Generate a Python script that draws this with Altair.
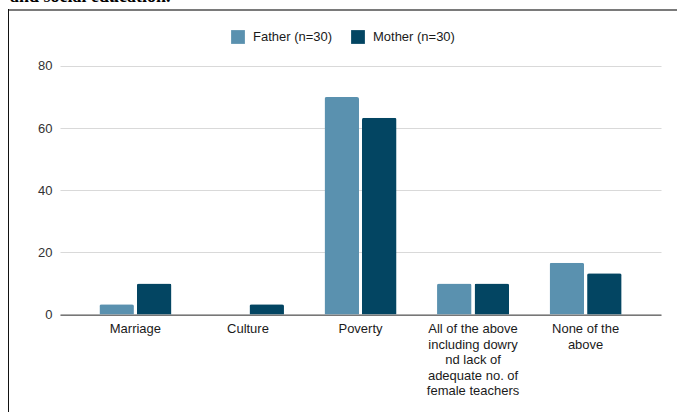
import altair as alt
import pandas as pd

# Reasons given, one entry per category (line breaks mark wrapped axis labels)
categories = [
    "Marriage",
    "Culture",
    "Poverty",
    "All of the above\nincluding dowry\nnd lack of\nadequate no. of\nfemale teachers",
    "None of the\nabove",
]
series = ["Father (n=30)", "Mother (n=30)"]
father = [3.33, 0, 70.0, 10.0, 16.67]
mother = [10.0, 3.33, 63.33, 10.0, 13.33]
y_ticks = [0, 20, 40, 60, 80]
colors = ["#5a91af", "#034562"]
heading = "and social education."

rows = []
for cat, f, m in zip(categories, father, mother):
    rows.append({"category": cat, "group": series[0], "value": f})
    rows.append({"category": cat, "group": series[1], "value": m})
df = pd.DataFrame(rows)

FONT = "Liberation Sans"

bars = alt.Chart(df).mark_bar(
    cornerRadiusTopLeft=2, cornerRadiusTopRight=2
).encode(
    x=alt.X(
        "category:N",
        sort=categories,
        title=None,
        scale=alt.Scale(paddingInner=0.36, paddingOuter=0.35),
        axis=alt.Axis(
            labelAngle=0,
            labelExpr="split(datum.label, '\\n')",
            labelFont=FONT,
            labelFontSize=13,
            labelColor="#1a1a1a",
            labelLineHeight=15.5,
            labelPadding=8,
            ticks=False,
            domainColor="#333333",
            domainWidth=1,
            grid=False,
        ),
    ),
    xOffset=alt.XOffset(
        "group:N", sort=series, scale=alt.Scale(paddingInner=0.08, paddingOuter=0)
    ),
    y=alt.Y(
        "value:Q",
        title=None,
        scale=alt.Scale(domain=[0, 80], nice=False),
        axis=alt.Axis(
            values=y_ticks,
            labelFont=FONT,
            labelFontSize=13,
            labelColor="#333333",
            labelPadding=8,
            ticks=False,
            domain=False,
            gridColor="#d9d9d9",
            gridWidth=1,
        ),
    ),
    color=alt.Color(
        "group:N",
        sort=series,
        scale=alt.Scale(domain=series, range=colors),
        legend=alt.Legend(
            title=None,
            orient="none",
            direction="horizontal",
            legendX=171,
            legendY=-36,
            symbolType="square",
            symbolSize=190,
            symbolStrokeWidth=0,
            labelFont=FONT,
            labelFontSize=13,
            labelColor="#1a1a1a",
            labelOffset=8,
            columnPadding=18,
        ),
    ),
)

# Page frame: grey rule across the top, dark rule down the left side
top_rule = alt.Chart(pd.DataFrame({"k": [0]})).mark_rule(
    color="#7a7a7a", strokeWidth=2
).encode(x=alt.value(-51), x2=alt.value(620), y=alt.value(-56))

left_rule = alt.Chart(pd.DataFrame({"k": [0]})).mark_rule(
    color="#111111", strokeWidth=1
).encode(x=alt.value(-51.5), y=alt.value(-57), y2=alt.value(350))

# Tail of the document heading above the frame
heading_text = alt.Chart(pd.DataFrame({"t": [heading]})).mark_text(
    font="Liberation Serif",
    fontWeight="bold",
    fontSize=18,
    align="left",
    baseline="alphabetic",
    color="#000000",
).encode(text="t:N", x=alt.value(-50), y=alt.value(-63.5))

chart = alt.layer(bars, top_rule, left_rule, heading_text).properties(
    width=601,
    height=248.6,
    padding={"left": 60, "top": 66, "right": 16, "bottom": 97},
    autosize=alt.AutoSizeParams(type="none"),
    background="#ffffff",
).configure_view(stroke=None)

chart.save("out.html", embed_options={"renderer": "svg", "actions": False})
